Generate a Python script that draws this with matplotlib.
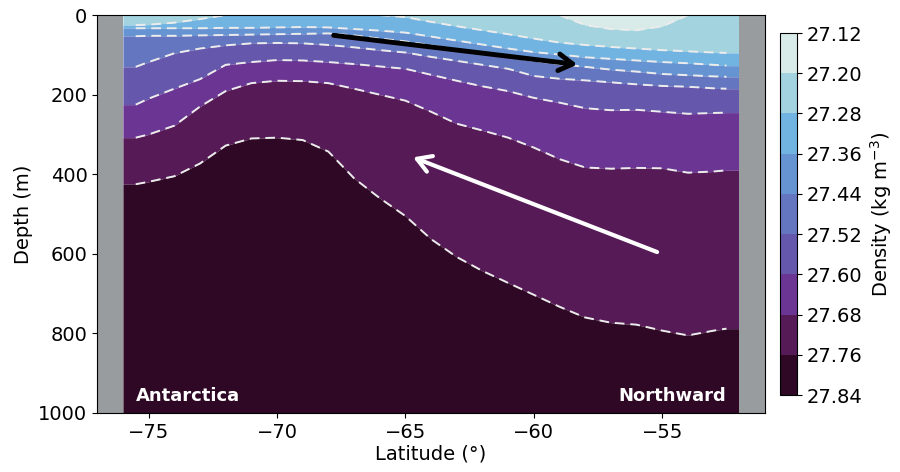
import numpy as np
import matplotlib
matplotlib.use('Agg')
import matplotlib.pyplot as plt
from matplotlib.colors import ListedColormap, BoundaryNorm

# density levels (kg m-3) and band colours
levels = [27.12, 27.20, 27.28, 27.36, 27.44, 27.52, 27.60, 27.68, 27.76, 27.84]
colors = ['#d9ebe9', '#a3d3de', '#71b4e2', '#6694d2', '#6576c0',
          '#6557ab', '#6a3593', '#561a56', '#2e0824']

# latitude of the sections (deg)
lat = [-75.5, -75, -74, -73, -72, -71, -70, -69, -68, -67, -66, -65, -64,
       -63, -62, -61, -60, -59, -58, -57, -56, -55, -54, -53, -52.5]

# depth (m) of each isopycnal along the section, 0 = outcrops at surface
d_2720 = [0, 0, 0, 0, 0, 0, 0, 0, 0, 0, 0, 0, 0,
          0, 0, 0, 0, 0, 25, 35, 38, 28, 0, 0, 0]
d_2728 = [25, 24, 19, 10, 0, 0, 0, 0, 0, 0, 0, 5, 17,
          28, 38, 48, 59, 69, 75, 80, 84, 88, 91, 94, 95]
d_2736 = [33, 33, 33, 33, 32, 32, 31, 30, 31, 35, 39, 44, 54,
          64, 74, 84, 93, 99, 106, 110, 114, 118, 121, 125, 127]
d_2744 = [53, 52, 52, 51, 50, 49, 48, 47, 46, 51, 59, 66, 76,
          86, 96, 105, 115, 123, 130, 137, 142, 148, 151, 154, 155]
d_2752 = [130, 118, 96, 84, 76, 71, 70, 71, 75, 81, 88, 94, 105,
          115, 125, 135, 153, 160, 164, 169, 174, 178, 180, 184, 185]
d_2760 = [225, 210, 185, 161, 125, 118, 113, 114, 118, 123, 129, 135, 150,
          165, 179, 191, 208, 220, 234, 239, 238, 243, 248, 246, 245]
d_2768 = [308, 300, 278, 230, 191, 171, 165, 166, 171, 185, 200, 215, 243,
          273, 290, 308, 333, 362, 383, 386, 384, 385, 396, 393, 390]
d_2776 = [425, 419, 405, 373, 328, 310, 308, 314, 343, 410, 460, 505, 563,
          608, 643, 673, 703, 733, 760, 773, 778, 793, 805, 793, 788]

isopycnals = [d_2720, d_2728, d_2736, d_2744, d_2752, d_2760, d_2768, d_2776]

# flow arrows: (lat, depth) tail -> head
upper_arrow = [(-67.9, 50), (-58.2, 125)]
lower_arrow = [(-55.1, 598), (-64.8, 355)]

lat = np.array(lat)
lat_fill = np.r_[-76, lat, -52]
bounds = [np.zeros(len(lat_fill))]
for d in isopycnals:
    bounds.append(np.pad(np.array(d, float), 1, mode='edge'))
bounds.append(np.full(len(lat_fill), 1000.0))

fig = plt.figure(figsize=(9, 4.72), dpi=100)
ax = fig.add_axes([0.108, 0.125, 0.742, 0.843])
cax = fig.add_axes([0.867, 0.163, 0.019, 0.767])

for i, c in enumerate(colors):
    ax.fill_between(lat_fill, bounds[i], bounds[i + 1], color=c, lw=0)

for d in isopycnals:
    d = np.array(d, float)
    pos = d > 0
    keep = pos | np.r_[pos[1:], False] | np.r_[False, pos[:-1]]
    ax.plot(lat, np.where(keep, d, np.nan), color='#ececec', lw=1.4,
            dashes=(5, 3))

# land / outside the section
ax.axvspan(-77, -76, color='#999c9e', lw=0)
ax.axvspan(-52, -51, color='#999c9e', lw=0)

ax.annotate('', xy=upper_arrow[1], xytext=upper_arrow[0],
            arrowprops=dict(arrowstyle='->,head_length=0.5,head_width=0.3',
                            color='black', lw=3.5, mutation_scale=20))
ax.annotate('', xy=lower_arrow[1], xytext=lower_arrow[0],
            arrowprops=dict(arrowstyle='->,head_length=0.5,head_width=0.3',
                            color='white', lw=3, mutation_scale=20))

ax.text(-75.5, 957, 'Antarctica', color='white', fontsize=13,
        fontweight='bold', ha='left', va='center')
ax.text(-52.5, 957, 'Northward', color='white', fontsize=13,
        fontweight='bold', ha='right', va='center')

ax.set_xlim(-77, -51)
ax.set_ylim(1000, 0)
ax.set_xticks([-75, -70, -65, -60, -55])
ax.set_yticks([0, 200, 400, 600, 800, 1000])
ax.tick_params(labelsize=14)
ax.set_xlabel('Latitude (°)', fontsize=14, labelpad=2)
ax.set_ylabel('Depth (m)', fontsize=14)

cmap = ListedColormap(colors)
norm = BoundaryNorm(levels, cmap.N)
sm = plt.cm.ScalarMappable(cmap=cmap, norm=norm)
cb = fig.colorbar(sm, cax=cax, ticks=levels)
cb.ax.invert_yaxis()
cb.ax.set_yticklabels(['%.2f' % v for v in levels])
cb.ax.tick_params(labelsize=14)
cb.set_label('Density (kg m$^{-3}$)', fontsize=14)

fig.savefig('out.png', dpi=100)
